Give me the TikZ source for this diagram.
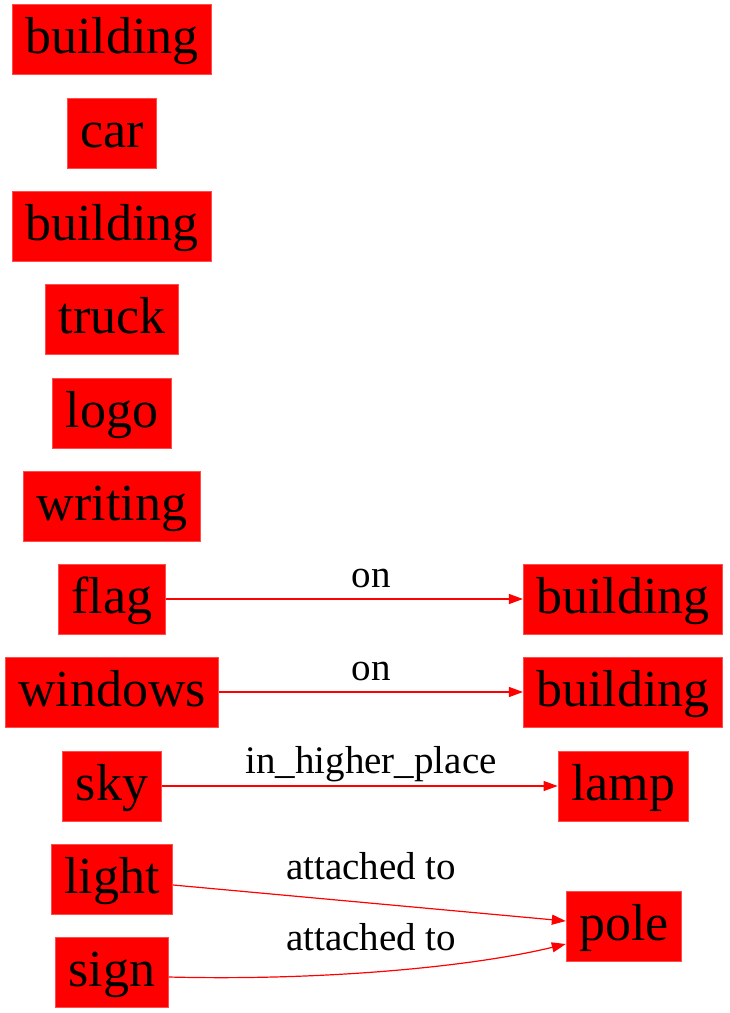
\documentclass[tikz,border=0pt]{standalone}
\usepackage{fontspec}
\setmainfont{Liberation Serif}
\usetikzlibrary{arrows.meta, positioning}

\tikzset{
    obj/.style={draw=red!70, fill=red, text=black, inner xsep=6.5pt, inner ysep=0pt,
        text height=20pt, text depth=6pt,
        minimum height=35pt, font=\fontsize{26}{30}\selectfont},
    rel/.style={draw=red, line width=0.6pt, -{Triangle[length=7pt, width=5pt]}},
    lbl/.style={anchor=base, inner sep=0pt, font=\fontsize{19.5}{23}\selectfont}
}

\begin{document}
\begin{tikzpicture}[x=0.5pt, y=-0.5pt]
        \useasboundingbox (0,0) rectangle (729,1013);

        % Nodes
        \node (b1) [obj] at (112,39) {building};
        \node (car) [obj] at (112,133) {car};
        \node (b2) [obj] at (112,226) {building};
        \node (truck) [obj] at (112,319) {truck};
        \node (logo) [obj] at (112,413) {logo};
        \node (writing) [obj] at (112,506) {writing};
        \node (flag) [obj] at (112,599) {flag};
        \node (windows) [obj] at (112,692) {windows};
        \node (sky) [obj] at (112,786) {sky};
        \node (light) [obj] at (112,879) {light};
        \node (sign) [obj] at (112,972) {sign};

        \node (b3) [obj] at (623,599) {building};
        \node (b4) [obj] at (623,692) {building};
        \node (lamp) [obj] at (623,786) {lamp};
        \node (pole) [obj] at (624,926) {pole};

        % Labels
        \node (on1) [lbl] at (371,587) {on};
        \node (on2) [lbl] at (371,680) {on};
        \node (higher) [lbl] at (371,773) {in\_higher\_place};
        \node (att1) [lbl] at (371,879) {attached to};
        \node (att2) [lbl] at (371,950) {attached to};

        % Arrows
        \draw[rel] (flag) -- (b3);
        \draw[rel] (windows) -- (b4);
        \draw[rel] (sky) -- (lamp);

        \draw[rel] ([yshift=-3pt]light.east) -- ([yshift=2.5pt]pole.west);
        \draw[rel] ([yshift=-2.5pt]sign.east) .. controls +(160,4) and +(-90,22) .. ([yshift=-9pt]pole.west);

    \end{tikzpicture}
\end{document}
